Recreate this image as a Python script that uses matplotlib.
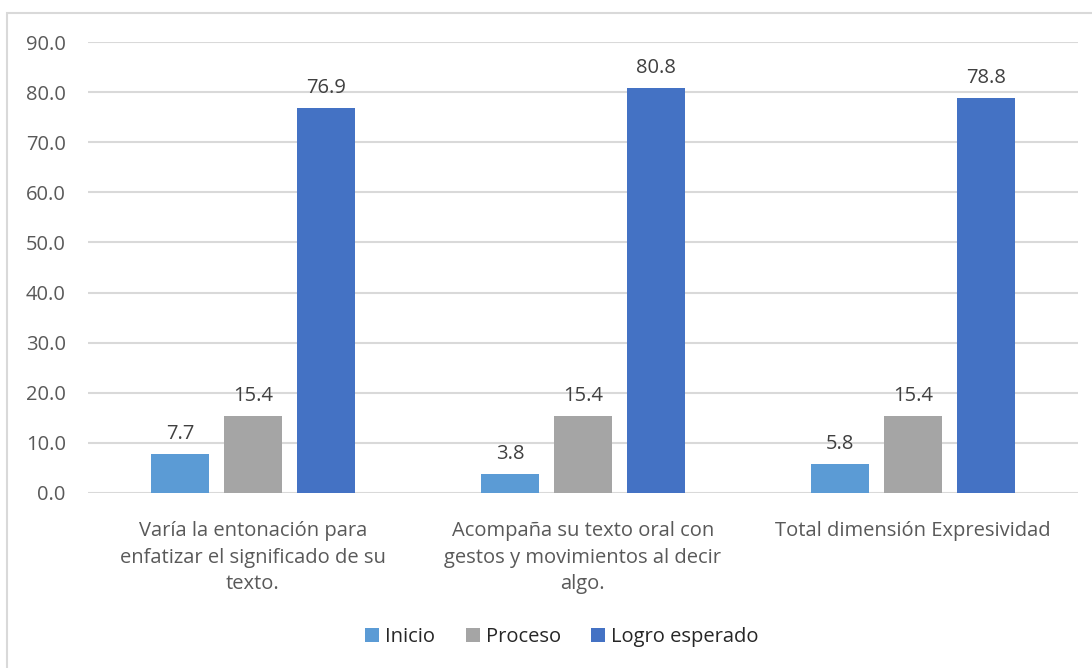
import numpy as np
import matplotlib.pyplot as plt
from matplotlib.patches import Rectangle

plt.rcParams['font.family'] = ['Open Sans', 'DejaVu Sans']

# ---- data
categories = ["Varía la entonación para\nenfatizar el significado de su\ntexto.",
              "Acompaña su texto oral con\ngestos y movimientos al decir\nalgo.",
              "Total dimensión Expresividad"]
series = ["Inicio", "Proceso", "Logro esperado"]
inicio = [7.7, 3.8, 5.8]
proceso = [15.4, 15.4, 15.4]
logro = [76.9, 80.8, 78.8]
colors = ["#5B9BD5", "#A5A5A5", "#4472C4"]

fig = plt.figure(figsize=(10.92, 6.68), dpi=100)
ax = fig.add_axes([0.0806, 0.262, 0.9064, 0.675])

# chart border like the excel frame
fig.patches.append(Rectangle((7/1092, -0.05), 1.1, 1 - 13/668 + 0.05,
                             transform=fig.transFigure, fill=False,
                             edgecolor="#D9D9D9", linewidth=1.5))

x = np.arange(len(categories))
w = 0.176
step = 0.221
for i, (name, vals) in enumerate(zip(series, [inicio, proceso, logro])):
    pos = x + (i - 1) * step
    bars = ax.bar(pos, vals, width=w, color=colors[i], label=name, zorder=3)
    for b, v in zip(bars, vals):
        ax.text(b.get_x() + b.get_width() / 2, v + 2.0, f"{v:.1f}",
                ha="center", va="bottom", fontsize=14.5, color="#404040")

ax.set_xlim(-0.5, 2.5)
ax.set_ylim(0, 90)
ax.set_yticks(np.arange(0, 91, 10))
ax.set_yticklabels([f"{t:.1f}" for t in np.arange(0, 91, 10)], fontsize=14.5, color="#595959")
ax.set_xticks(x)
ax.set_xticklabels(categories, fontsize=14.5, color="#595959", linespacing=1.45)
ax.tick_params(axis="x", length=0, pad=20)
ax.tick_params(axis="y", length=0, pad=16)
ax.grid(axis="y", color="#D9D9D9", linewidth=1.5, zorder=0)
for s in ax.spines.values():
    s.set_visible(False)

ax.legend(loc="center", bbox_to_anchor=(562/1092, 1 - 637/668), bbox_transform=fig.transFigure,
          ncol=3, frameon=False, fontsize=14.5, handlelength=0.7, handleheight=0.7,
          handletextpad=0.3, columnspacing=1.5, labelcolor="#262626")

fig.savefig("out.png", dpi=100)
